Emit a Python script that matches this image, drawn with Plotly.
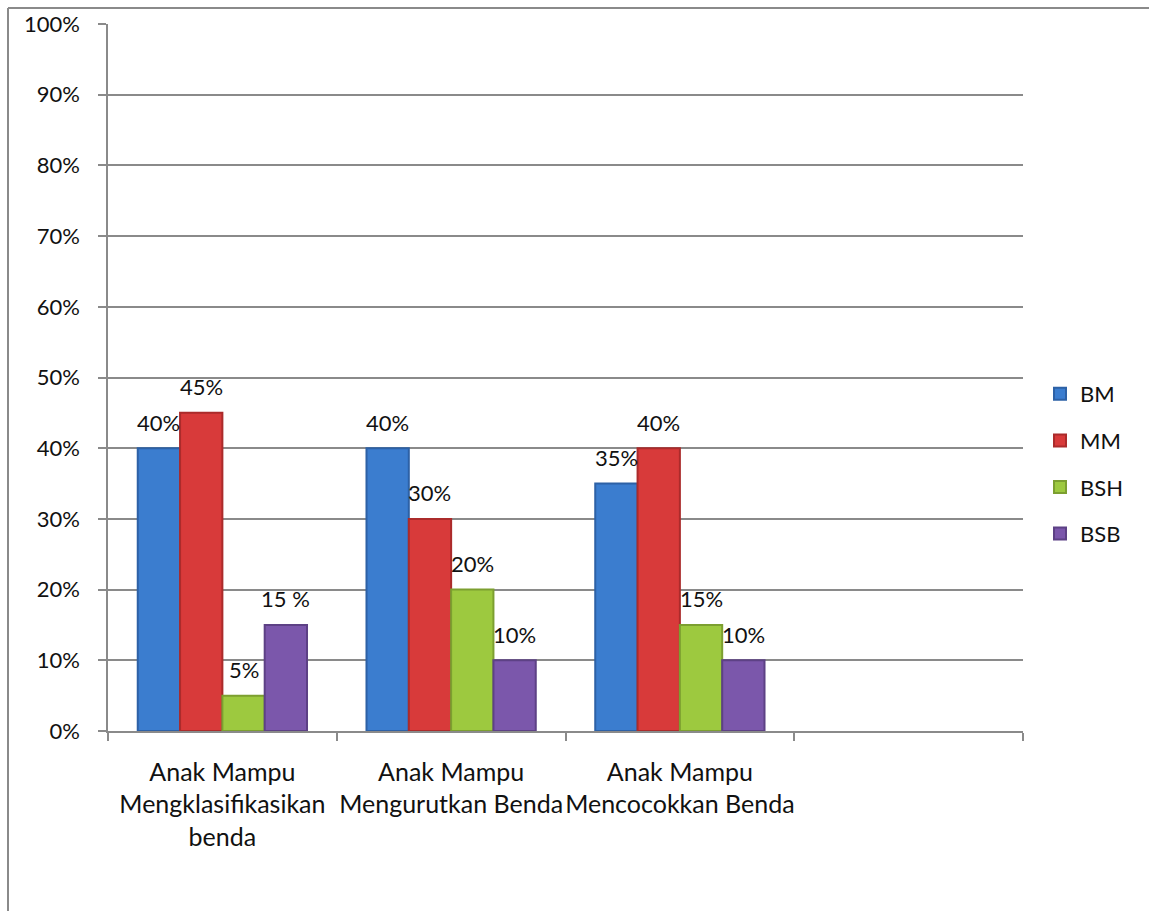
import plotly.graph_objects as go

# Categories (the chart reserves a fourth, empty slot on the axis)
categories = [
    "Anak Mampu<br>Mengklasifikasikan<br>benda",
    "Anak Mampu<br>Mengurutkan Benda",
    "Anak Mampu<br>Mencocokkan Benda",
]
empty_slot = " "

series_names = ["BM", "MM", "BSH", "BSB"]
bm = [40, 40, 35]
mm = [45, 30, 40]
bsh = [5, 20, 15]
bsb = [15, 10, 10]

bm_labels = ["40%", "40%", "35%"]
mm_labels = ["45%", "30%", "40%"]
bsh_labels = ["5%", "20%", "15%"]
bsb_labels = ["15 %", "10%", "10%"]

y_ticks = [0, 10, 20, 30, 40, 50, 60, 70, 80, 90, 100]

colors = ["#3b7dcf", "#d83a3a", "#9dc93f", "#7b57ab"]
edge_colors = ["#2d61a6", "#ab2b2b", "#7c9f30", "#5d4185"]

FONT = "Lato, Carlito, sans-serif"
FS = 22
CAT_FS = 25

W, H = 1149, 911
M_L, M_R, M_T, M_B = 108, 126, 24, 180
plot_w = W - M_L - M_R
plot_h = H - M_T - M_B

all_values = [bm, mm, bsh, bsb]
all_labels = [bm_labels, mm_labels, bsh_labels, bsb_labels]

fig = go.Figure()
for i, (name, vals) in enumerate(zip(series_names, all_values)):
    fig.add_trace(go.Bar(
        name=name,
        x=categories,
        y=vals,
        offsetgroup=name,
        marker=dict(color=colors[i], line=dict(color=edge_colors[i], width=2)),
        legendgroup=name,
        hoverinfo="skip",
    ))

# keep the empty fourth slot on the category axis (shares the BM offset group)
fig.add_trace(go.Bar(x=[empty_slot], y=[None], offsetgroup="BM",
                     showlegend=False, hoverinfo="skip",
                     marker=dict(color="rgba(0,0,0,0)")))

# bar geometry in pixels, used to centre each value label over its bar
bargap = 0.26
slot_px = plot_w / 4
bar_px = slot_px * (1 - bargap) / 4

annotations = []
for i, (vals, labs) in enumerate(zip(all_values, all_labels)):
    for cat, v, lab in zip(categories, vals, labs):
        annotations.append(dict(
            x=cat, y=v, xref="x", yref="y",
            text=lab, showarrow=False,
            xshift=(i - 1.5) * bar_px, yshift=26,
            font=dict(family=FONT, size=FS, color="#111111"),
        ))

# thin gray frame along the top and left edges
px = lambda p: (p - M_L) / plot_w
py = lambda p: (H - M_B - p) / plot_h
frame = dict(color="#8a8a8a", width=2)
shapes = [
    dict(type="line", xref="paper", yref="paper",
         x0=px(8), x1=px(W + 5), y0=py(8), y1=py(8), line=frame),
    dict(type="line", xref="paper", yref="paper",
         x0=px(8), x1=px(8), y0=py(8), y1=py(H + 5), line=frame),
]

fig.update_layout(
    width=W, height=H,
    margin=dict(l=M_L, r=M_R, t=M_T, b=M_B, pad=0, autoexpand=False),
    paper_bgcolor="white", plot_bgcolor="white",
    barmode="group", bargap=bargap, bargroupgap=0,
    font=dict(family=FONT, size=FS, color="#111111"),
    showlegend=True,
    legend=dict(
        x=px(1040), y=py(373), xanchor="left", yanchor="top",
        traceorder="grouped", tracegroupgap=15,
        font=dict(size=FS), bgcolor="rgba(0,0,0,0)",
        itemclick=False, itemdoubleclick=False,
    ),
    annotations=annotations,
    shapes=shapes,
    xaxis=dict(
        type="category",
        categoryorder="array",
        categoryarray=categories + [empty_slot],
        range=[-0.5, 3.5],
        showline=True, linecolor="#8a8a8a", linewidth=1.5,
        ticks="outside", tickson="boundaries", ticklen=8,
        tickcolor="#8a8a8a", tickwidth=1.5,
        ticklabelstandoff=18, tickangle=0, automargin=False,
        showgrid=False, fixedrange=True,
        tickfont=dict(size=CAT_FS),
    ),
    yaxis=dict(
        range=[0, 100], tickvals=y_ticks,
        ticktext=[f"{t}%" for t in y_ticks],
        showline=True, linecolor="#8a8a8a", linewidth=1.5,
        ticks="outside", ticklen=8, tickcolor="#8a8a8a", tickwidth=1.5,
        ticklabelstandoff=14, automargin=False,
        showgrid=True, gridcolor="#8a8a8a", gridwidth=1.5,
        zeroline=False, fixedrange=True,
        tickfont=dict(size=FS),
    ),
)

fig.write_html("out.html", config={"displayModeBar": False})
